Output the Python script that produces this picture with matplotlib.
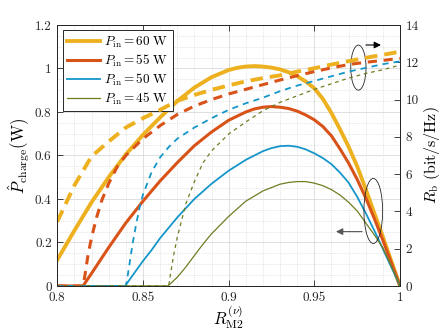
import numpy as np
import matplotlib
matplotlib.use("Agg")
import matplotlib.pyplot as plt
from matplotlib.patches import Ellipse
from matplotlib.ticker import MultipleLocator, FormatStrFormatter

plt.rcParams['font.family'] = 'cmr10'
plt.rcParams['mathtext.fontset'] = 'cm'
plt.rcParams['axes.formatter.use_mathtext'] = True

# P_charge (left axis)
x60 = [0.80, 0.81, 0.82, 0.83, 0.84, 0.85, 0.86, 0.87, 0.88, 0.89, 0.90, 0.905, 0.91, 0.915,
       0.92, 0.925, 0.93, 0.935, 0.94, 0.945, 0.95, 0.955, 0.96, 0.965, 0.97, 0.975, 0.98,
       0.985, 0.99, 0.995, 1.0]
p60 = [0.12, 0.255, 0.385, 0.50, 0.605, 0.695, 0.775, 0.85, 0.912, 0.96, 0.993, 1.003, 1.009, 1.011,
       1.009, 1.004, 0.996, 0.983, 0.965, 0.94, 0.909, 0.86, 0.795, 0.72, 0.64, 0.55, 0.445,
       0.335, 0.225, 0.112, 0.0]

x55 = [0.80, 0.815, 0.82, 0.83, 0.84, 0.85, 0.86, 0.87, 0.88, 0.89, 0.90, 0.91, 0.915, 0.92,
       0.925, 0.93, 0.935, 0.94, 0.945, 0.95, 0.955, 0.96, 0.965, 0.97, 0.975, 0.98, 0.985,
       0.99, 0.995, 1.0]
p55 = [0.0, 0.0, 0.058, 0.177, 0.29, 0.39, 0.483, 0.567, 0.645, 0.708, 0.762, 0.80, 0.814, 0.822,
       0.825, 0.822, 0.816, 0.804, 0.786, 0.764, 0.733, 0.69, 0.63, 0.565, 0.49, 0.405, 0.31,
       0.21, 0.105, 0.0]

x50 = [0.80, 0.8395, 0.84, 0.845, 0.85, 0.855, 0.86, 0.87, 0.88, 0.89, 0.90, 0.91, 0.92,
       0.925, 0.93, 0.935, 0.94, 0.945, 0.95, 0.955, 0.96, 0.965, 0.97, 0.975, 0.98, 0.985,
       0.99, 0.995, 1.0]
p50 = [0.0, 0.0, 0.005, 0.06, 0.115, 0.165, 0.22, 0.315, 0.40, 0.47, 0.53, 0.58, 0.62,
       0.634, 0.643, 0.645, 0.64, 0.628, 0.61, 0.588, 0.56, 0.521, 0.475, 0.41, 0.335, 0.255,
       0.17, 0.085, 0.0]

x45 = [0.80, 0.8645, 0.865, 0.87, 0.875, 0.88, 0.885, 0.89, 0.90, 0.91, 0.92, 0.93, 0.935,
       0.94, 0.945, 0.95, 0.955, 0.96, 0.965, 0.97, 0.975, 0.98, 0.985, 0.99, 0.995, 1.0]
p45 = [0.0, 0.0, 0.003, 0.04, 0.087, 0.14, 0.192, 0.24, 0.32, 0.39, 0.437, 0.468, 0.476,
       0.48, 0.48, 0.473, 0.461, 0.443, 0.418, 0.385, 0.345, 0.29, 0.235, 0.175, 0.09, 0.0]

# R_b (right axis)
xr60 = [0.80, 0.81, 0.82, 0.83, 0.84, 0.85, 0.86, 0.87, 0.88, 0.89, 0.90, 0.91, 0.92,
        0.93, 0.94, 0.95, 0.96, 0.97, 0.98, 0.99, 1.0]
r60 = [3.45, 5.4, 6.95, 7.75, 8.5, 9.0, 9.45, 9.93, 10.25, 10.52, 10.76, 10.98, 11.15,
       11.3, 11.5, 11.68, 11.88, 12.06, 12.24, 12.4, 12.57]

xr55 = [0.80, 0.815, 0.816, 0.818, 0.82, 0.823, 0.826, 0.83, 0.835, 0.84, 0.845, 0.85, 0.86,
        0.87, 0.88, 0.89, 0.90, 0.91, 0.92, 0.93, 0.94, 0.95, 0.96, 0.97, 0.98, 0.99, 1.0]
r55 = [0.0, 0.0, 0.5, 1.7, 2.6, 3.7, 4.6, 5.5, 6.4, 7.0, 7.45, 7.9, 8.6,
       9.2, 9.65, 10.0, 10.3, 10.55, 10.8, 11.05, 11.28, 11.5, 11.7, 11.88, 12.0, 12.1, 12.21]

xr50 = [0.80, 0.84, 0.8405, 0.842, 0.844, 0.846, 0.848, 0.85, 0.855, 0.86, 0.865, 0.87, 0.88,
        0.89, 0.90, 0.91, 0.92, 0.93, 0.94, 0.95, 0.96, 0.97, 0.98, 0.99, 1.0]
r50 = [0.0, 0.0, 0.2, 1.1, 2.3, 3.3, 4.2, 4.9, 6.1, 6.9, 7.45, 7.9, 8.5,
       9.0, 9.45, 9.8, 10.1, 10.45, 10.75, 11.0, 11.25, 11.5, 11.7, 11.9, 12.05]

xr45 = [0.80, 0.865, 0.866, 0.868, 0.87, 0.875, 0.88, 0.885, 0.89, 0.90, 0.91, 0.92,
        0.93, 0.94, 0.95, 0.96, 0.97, 0.98, 0.99, 1.0]
r45 = [0.0, 0.0, 0.6, 1.7, 2.6, 4.4, 5.6, 6.6, 7.25, 8.15, 8.8, 9.4,
       9.85, 10.2, 10.55, 10.85, 11.15, 11.4, 11.6, 11.85]

labels = ['60', '55', '50', '45']
colors = ['#EDB120', '#D95319', '#1596C9', '#6F7D22']
widths = [2.8, 2.2, 1.3, 0.9]
dashes = [(3.2, 1.8), (3.0, 2.2), (3.4, 2.8), (3.0, 3.0)]

fig = plt.figure(figsize=(4.43, 3.32), dpi=100)
ax = fig.add_axes([0.1293, 0.1386, 0.903 - 0.1293, 0.9247 - 0.1386])
ax2 = ax.twinx()

solid = [(x60, p60), (x55, p55), (x50, p50), (x45, p45)]
dashed = [(xr60, r60), (xr55, r55), (xr50, r50), (xr45, r45)]

for (xs, ys), c, lw, lab in zip(solid, colors, widths, labels):
    ax.plot(xs, ys, color=c, lw=lw, label=r'$P_{\rm in}=' + lab + r'\ {\rm W}$')
for (xs, ys), c, lw, d in zip(dashed, colors, widths, dashes):
    ax2.plot(xs, ys, color=c, lw=lw, dashes=d)

ax.set_xlim(0.8, 1.0)
ax.set_ylim(0, 1.2)
ax2.set_ylim(0, 14)
ax.xaxis.set_major_locator(MultipleLocator(0.05))
ax.xaxis.set_minor_locator(MultipleLocator(0.01))
ax.yaxis.set_major_locator(MultipleLocator(0.2))
ax.yaxis.set_minor_locator(MultipleLocator(0.05))
ax2.yaxis.set_major_locator(MultipleLocator(2))
ax.xaxis.set_major_formatter(FormatStrFormatter('%g'))
ax.yaxis.set_major_formatter(FormatStrFormatter('%g'))
ax2.yaxis.set_major_formatter(FormatStrFormatter('%g'))

ax.grid(which='major', color='#DADADA', lw=0.6, ls='-')
ax.grid(which='minor', color='#D0D0D0', lw=0.5, ls=':')
ax.set_axisbelow(True)

for a in (ax, ax2):
    for s in a.spines.values():
        s.set_color('#262626')
        s.set_linewidth(0.7)
ax.tick_params(which='both', direction='in', top=True, labelsize=9.5, colors='#262626', pad=4)
ax.tick_params(which='minor', length=0)
ax.tick_params(which='major', length=4, width=0.6)
ax2.tick_params(direction='in', labelsize=9.5, colors='#262626', length=4, width=0.6, pad=4)
ax.tick_params(axis='y', right=False)

ax.set_xlabel(r'$R_{\rm M2}^{(\nu)}$', fontsize=12, labelpad=0)
ax.set_ylabel(r'$\hat{P}_{\rm charge}({\rm W})$', fontsize=12, labelpad=2)
ax2.set_ylabel(r'$R_{\rm b}\ ({\rm bit/s/Hz})$', fontsize=11.5, labelpad=2)

leg = ax.legend(loc='upper left', fontsize=9.5, handlelength=2.5, borderpad=0.35,
                labelspacing=0.2, handletextpad=0.3, borderaxespad=0.4,
                fancybox=False, framealpha=1, edgecolor='#262626')
leg.get_frame().set_linewidth(0.7)

# annotations: ellipses with arrows
ax.add_patch(Ellipse((0.9757, 1.004), 0.0089, 0.207, fill=False, lw=0.6, color='#262626', zorder=5))
ax.annotate('', xy=(0.9905, 1.108), xytext=(0.9785, 1.108),
            arrowprops=dict(arrowstyle='-|>', color='black', lw=0.8, mutation_scale=10))
ax.add_patch(Ellipse((0.9844, 0.345), 0.0109, 0.299, fill=False, lw=0.6, color='#262626', zorder=5))
ax.annotate('', xy=(0.961, 0.25), xytext=(0.9795, 0.25),
            arrowprops=dict(arrowstyle='-|>', color='#555555', lw=0.8, mutation_scale=10))

fig.savefig('out.png', dpi=100)
